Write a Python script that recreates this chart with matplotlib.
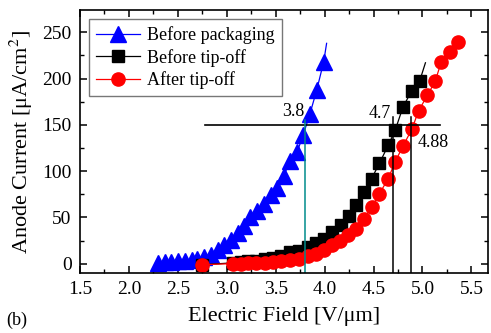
import matplotlib
matplotlib.use("Agg")
import matplotlib.pyplot as plt
from matplotlib.ticker import MultipleLocator, FormatStrFormatter

plt.rcParams['font.family'] = ['Liberation Serif', 'DejaVu Serif']
plt.rcParams['mathtext.fontset'] = 'stix'

# Before packaging
pack_x = [2.30, 2.37, 2.43, 2.50, 2.57, 2.64, 2.70, 2.77, 2.84, 2.91, 2.97, 3.04, 3.11,
          3.18, 3.24, 3.31, 3.38, 3.45, 3.51, 3.58, 3.65, 3.72, 3.78, 3.85, 3.92, 3.99]
pack_y = [1.0, 1.5, 2.0, 2.5, 3.0, 4.0, 5.0, 7.0, 9.0, 14.5, 20.0, 26.0, 33.0,
          40.5, 50.0, 57.0, 65.0, 74.0, 82.0, 95.0, 111.0, 121.0, 139.0, 162.0, 188.0, 218.0]

# Before tip-off
tip_x = [2.75, 3.06, 3.14, 3.22, 3.30, 3.39, 3.47, 3.55, 3.65, 3.74, 3.83, 3.91, 3.99,
         4.08, 4.17, 4.25, 4.32, 4.40, 4.48, 4.56, 4.65, 4.72, 4.80, 4.89, 4.97]
tip_y = [-1.0, 1.0, 1.5, 2.5, 3.5, 5.0, 6.5, 8.5, 12.5, 14.0, 18.0, 22.0, 27.0,
         34.0, 41.5, 52.0, 63.0, 77.5, 92.0, 108.5, 128.0, 144.0, 169.0, 187.0, 197.0]

# After tip-off
after_x = [2.75, 3.06, 3.14, 3.22, 3.30, 3.39, 3.47, 3.55, 3.65, 3.74, 3.83, 3.91, 3.99,
           4.08, 4.16, 4.24, 4.32, 4.40, 4.48, 4.56, 4.65, 4.72, 4.80, 4.89, 4.96,
           5.05, 5.13, 5.19, 5.28, 5.36]
after_y = [-1.0, 0.2, 0.3, 0.5, 0.8, 1.2, 1.8, 2.5, 3.6, 5.4, 7.9, 10.8, 14.4,
           19.8, 25.0, 30.6, 37.9, 48.7, 61.0, 75.7, 92.0, 110.0, 127.0, 145.0, 165.0,
           182.0, 197.0, 217.5, 229.0, 239.8]

# Trend continuation beyond the last measured point
pack_tail_x = [3.99, 4.02]
pack_tail_y = [218.0, 238.0]
tip_tail_x = [4.97, 5.03]
tip_tail_y = [197.0, 217.0]

# Threshold field markers at 150 uA/cm^2
thr_level = 150
thr_span = [2.78, 5.18]
thr_fields = [3.8, 4.7, 4.88]
thr_tops = [155, 158, 158]
thr_colors = ['#008b8b', 'black', 'black']
thr_labels = ['3.8', '4.7', '4.88']

fig = plt.figure(figsize=(4.91, 3.33), dpi=100)
ax = fig.add_axes([0.163, 0.18, 0.831, 0.79])

ax.plot(pack_tail_x, pack_tail_y, color='blue', lw=0.9)
ax.plot(tip_tail_x, tip_tail_y, color='black', lw=0.9)
ax.plot(pack_x, pack_y, color='blue', lw=0.9, marker='^', ms=11,
        mfc='blue', mec='blue', label='Before packaging')
ax.plot(tip_x, tip_y, color='black', lw=0.9, marker='s', ms=8.5,
        mfc='black', mec='black', label='Before tip-off')
ax.plot(after_x, after_y, color='red', lw=0.9, marker='o', ms=9.5,
        mfc='red', mec='red', label='After tip-off')

ax.plot(thr_span, [thr_level, thr_level], color='black', lw=1.2)
for xv, top, c in zip(thr_fields, thr_tops, thr_colors):
    ax.plot([xv, xv], [-10, top], color=c, lw=1.1)

ax.text(thr_fields[0] - 0.01, 164, thr_labels[0], ha='right', va='center', fontsize=13)
ax.text(thr_fields[1] - 0.02, 162, thr_labels[1], ha='right', va='center', fontsize=13)
ax.text(thr_fields[2] + 0.07, 131, thr_labels[2], ha='left', va='center', fontsize=13)

ax.set_xlim(1.5, 5.67)
ax.set_ylim(-10, 274)
ax.xaxis.set_major_locator(MultipleLocator(0.5))
ax.xaxis.set_minor_locator(MultipleLocator(0.25))
ax.yaxis.set_major_locator(MultipleLocator(50))
ax.yaxis.set_minor_locator(MultipleLocator(25))
ax.xaxis.set_major_formatter(FormatStrFormatter('%.1f'))
ax.tick_params(which='both', direction='in', top=True, right=True, labelsize=14)
ax.tick_params(axis='x', which='major', pad=6)
ax.tick_params(axis='y', which='major', pad=6)
ax.tick_params(which='major', length=5, width=1.1)
ax.tick_params(which='minor', length=3, width=1.0)
for s in ax.spines.values():
    s.set_linewidth(1.2)

ax.set_xlabel('Electric Field [V/\u03bcm]', fontsize=16, labelpad=6)
ax.set_ylabel('Anode Current [\u03bcA/cm$^2$]', fontsize=16, labelpad=5)

leg = ax.legend(loc='upper left', fontsize=13, frameon=True, fancybox=False,
                edgecolor='#555555', handlelength=2.4, borderpad=0.4,
                labelspacing=0.25, borderaxespad=0.5, handletextpad=0.4)
leg.get_frame().set_linewidth(1.0)

fig.text(0.012, 0.025, '(b)', fontsize=13)

fig.savefig('out.png', dpi=100)
